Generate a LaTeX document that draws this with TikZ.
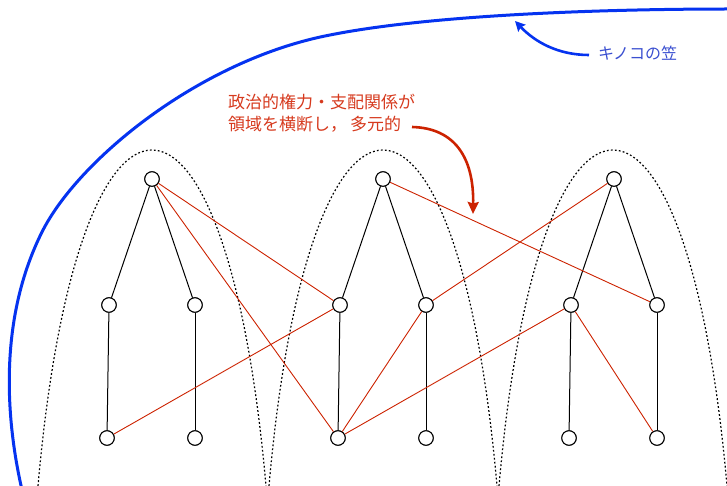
\documentclass[tikz,border=0pt]{standalone}
\usepackage{fontspec}
\newfontfamily\cjk{Noto Sans CJK JP}
\usetikzlibrary{arrows.meta}
\definecolor{capblue}{HTML}{0533F0}
\definecolor{captext}{HTML}{3A4FD0}
\definecolor{redline}{HTML}{CC2200}
\definecolor{redtext}{HTML}{D63A1E}
\begin{document}
\begin{tikzpicture}[x=1pt,y=-1pt,
  vert/.style={circle,draw,fill=white,line width=1pt,minimum size=14.5pt,inner sep=0pt},
  treeedge/.style={line width=1pt},
  cross/.style={redline,line width=0.9pt},
  arch/.style={line width=1.2pt,dash pattern=on 1.8pt off 2.2pt},
  capline/.style={capblue,line width=3pt},
  labelfont/.style={font=\cjk\fontsize{17}{22}\selectfont}]
\useasboundingbox (0,0) rectangle (727,486);
\clip (0,0) rectangle (727,486);

% dotted arches
\foreach \c in {152,383,613}{
  \draw[arch] ({\c-114},486) .. controls ({\c-74.5},38) and ({\c+74.5},38) .. ({\c+114},486);
}

% mushroom cap
\draw[capline] (22,490) .. controls (6,420) and (-2,320) .. (42,232)
  .. controls (78,160) and (200,60) .. (330,35)
  .. controls (430,15) and (600,9) .. (730,9);

% nodes
\foreach \i/\x in {1/152,2/383,3/614}{
  \node[vert] (r\i) at (\x,179) {};
  \node[vert] (a\i) at ({\x-43},305) {};
  \node[vert] (b\i) at ({\x+43},305) {};
  \node[vert] (c\i) at ({\x-45},438) {};
  \node[vert] (d\i) at ({\x+43},438) {};
}

% tree edges
\foreach \i in {1,2,3}{
  \draw[treeedge] (r\i) -- (a\i);
  \draw[treeedge] (r\i) -- (b\i);
  \draw[treeedge] (a\i) -- (c\i);
  \draw[treeedge] (b\i) -- (d\i);
}

% cross-domain relations
\draw[cross] (r1) -- (a2);
\draw[cross] (r1) -- (c2);
\draw[cross] (c1) -- (a2);
\draw[cross] (r2) -- (b3);
\draw[cross] (b2) -- (r3);
\draw[cross] (c2) -- (b2);
\draw[cross] (c2) -- (a3);
\draw[cross] (a3) -- (d3);

% redraw nodes on top
\foreach \i in {1,2,3}{
  \foreach \n in {r,a,b,c,d}{
    \path (\n\i) node[vert] {};
  }
}

% labels
\node[captext,anchor=west,inner sep=0pt,font=\cjk\fontsize{16}{18}\selectfont] (cap) at (598,53) {キノコの笠};
\coordinate (capstart) at (589,55);
\coordinate (captip) at (515,21);
\draw[capblue,line width=2.6pt,-{Stealth[length=10pt,width=10pt,inset=1.5pt]}] (capstart) .. controls (558,55) and (535,42) .. (captip);

\node[redtext,labelfont,anchor=north west,align=left,inner sep=0pt] (note) at (228,94) {政治的権力・支配関係が\\領域を横断し，\hspace{3pt}多元的};
\coordinate (redstart) at (412,127);
\coordinate (redtip) at (473,214);
\draw[redline,line width=2.6pt,-{Stealth[length=12pt,width=11pt,inset=1.5pt]}] (redstart) .. controls (455,128) and (474,158) .. (redtip);
\end{tikzpicture}
\end{document}
